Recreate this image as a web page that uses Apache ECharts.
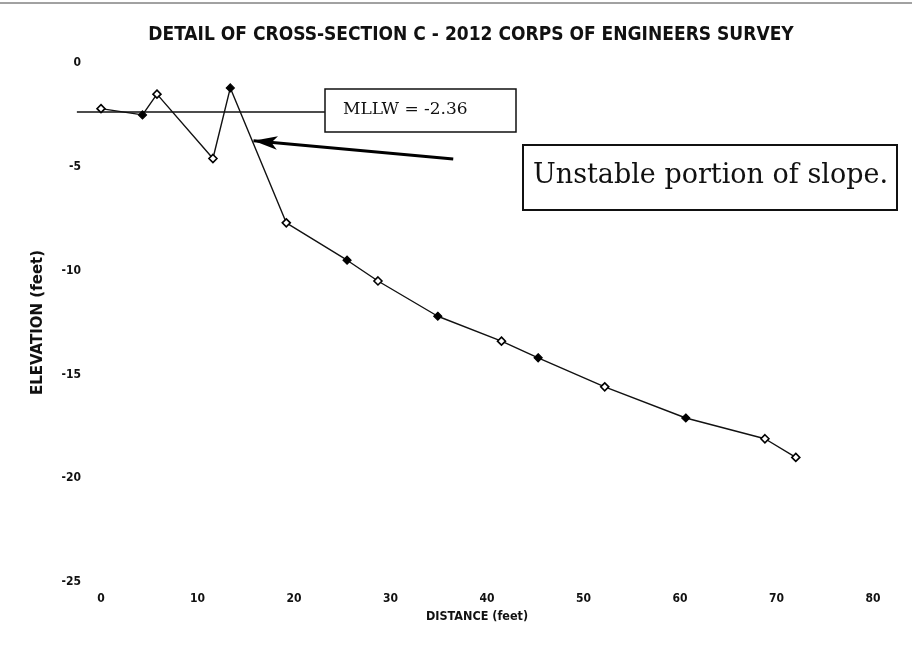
<!DOCTYPE html>
<html>
<head>
<meta charset="utf-8">
<script src="https://cdn.jsdelivr.net/npm/echarts@6/dist/echarts.min.js"></script>
<style>
html,body{margin:0;padding:0;background:#fff;}
#chart{width:912px;height:659px;}
</style>
</head>
<body>
<div id="chart"></div>
<script>
// ---- data ----
const titleText = 'DETAIL OF CROSS-SECTION C - 2012 CORPS OF ENGINEERS SURVEY';
const xAxisName = 'DISTANCE (feet)';
const yAxisName = 'ELEVATION (feet)';
const distance  = [0, 4.3, 5.8, 11.6, 13.4, 19.2, 25.5, 28.7, 34.9, 41.5, 45.3, 52.2, 60.6, 68.8, 72.0];
const elevation = [-2.2, -2.5, -1.5, -4.6, -1.2, -7.7, -9.5, -10.5, -12.2, -13.4, -14.2, -15.6, -17.1, -18.1, -19.0];
const filledMarker = [false, true, false, false, true, false, true, false, true, false, true, false, true, false, false];
const xTicks = {min: 0, max: 80, interval: 10};
const yTicks = {min: -25, max: 0, interval: 5};
const mllwValue = -2.36;
const mllwLabel = 'MLLW = -2.36';
const mllwLineX = [-2.5, 23.2];
const arrowFrom = [36.5, -4.62];
const arrowTo = [15.8, -3.75];
const noteText = 'Unstable portion of slope.';

const condFont = '"DejaVu Sans Condensed", "Liberation Sans Narrow", sans-serif';
const sansFont = '"DejaVu Sans", "Liberation Sans", sans-serif';
const serifFont = '"DejaVu Serif", "Liberation Serif", serif';

const chart = echarts.init(document.getElementById('chart'), null, {renderer: 'canvas'});

const seriesData = distance.map((x, i) => ({
  value: [x, elevation[i]],
  itemStyle: filledMarker[i]
    ? {color: '#000', borderColor: '#000', borderWidth: 1.2}
    : {color: '#fff', borderColor: '#000', borderWidth: 1.6}
}));

chart.setOption({
  animation: false,
  backgroundColor: '#fff',
  title: {
    text: titleText,
    left: 466, top: 21, textAlign: 'center',
    textStyle: {fontFamily: condFont, fontSize: 19, fontWeight: 'bold', color: '#111'}
  },
  grid: {left: 101, right: 39, top: 63, bottom: 77},
  xAxis: {
    type: 'value',
    min: xTicks.min, max: xTicks.max, interval: xTicks.interval,
    name: xAxisName, nameLocation: 'middle', nameGap: 24,
    nameTextStyle: {fontFamily: condFont, fontSize: 12.5, fontWeight: 'bold', color: '#111', padding: [0, 20, 0, 0]},
    axisLine: {show: false}, axisTick: {show: false}, splitLine: {show: false},
    axisLabel: {margin: 11, fontFamily: condFont, fontSize: 12, fontWeight: 'bold', color: '#111'}
  },
  yAxis: {
    type: 'value',
    min: yTicks.min, max: yTicks.max, interval: yTicks.interval,
    name: yAxisName, nameLocation: 'middle', nameGap: 55, nameRotate: 90,
    nameTextStyle: {fontFamily: sansFont, fontSize: 15, fontWeight: 'bold', color: '#111'},
    axisLine: {show: false}, axisTick: {show: false}, splitLine: {show: false},
    axisLabel: {margin: 20, fontFamily: condFont, fontSize: 12, fontWeight: 'bold', color: '#111'}
  },
  series: [{
    type: 'line',
    data: seriesData,
    clip: false,
    symbol: 'diamond',
    symbolSize: 8,
    z: 3,
    lineStyle: {color: '#111', width: 1.4},
    emphasis: {disabled: true},
    markLine: {
      silent: true,
      animation: false,
      label: {show: false},
      emphasis: {disabled: true},
      data: [
        [
          {coord: arrowFrom, symbol: 'none', lineStyle: {color: '#000', width: 3, type: 'solid'}},
          {coord: arrowTo, symbol: 'arrow', symbolSize: [10, 24]}
        ]
      ]
    }
  }]
});

// MLLW reference line, positioned through the chart's own scales
const p0 = chart.convertToPixel({gridIndex: 0}, [mllwLineX[0], mllwValue]);
const p1 = chart.convertToPixel({gridIndex: 0}, [mllwLineX[1], mllwValue]);

chart.setOption({
  graphic: [
    {type: 'line', shape: {x1: 0, y1: 3, x2: 912, y2: 3}, style: {stroke: '#444', lineWidth: 1}},
    {type: 'line', z: 1, shape: {x1: p0[0], y1: p0[1], x2: p1[0], y2: p1[1]}, style: {stroke: '#111', lineWidth: 1.5}},
    {
      type: 'rect', shape: {x: 325, y: 89, width: 191, height: 43},
      style: {fill: '#fff', stroke: '#111', lineWidth: 1.5}
    },
    {
      type: 'text', left: 343, top: 101,
      style: {text: mllwLabel, font: '17px ' + serifFont, fill: '#111'}
    },
    {
      type: 'rect', shape: {x: 523, y: 145, width: 374, height: 65},
      style: {fill: '#fff', stroke: '#111', lineWidth: 2}
    },
    {
      type: 'text', left: 533, top: 162,
      style: {text: noteText, font: '27px ' + serifFont, fill: '#111'}
    }
  ]
});
</script>
</body>
</html>
